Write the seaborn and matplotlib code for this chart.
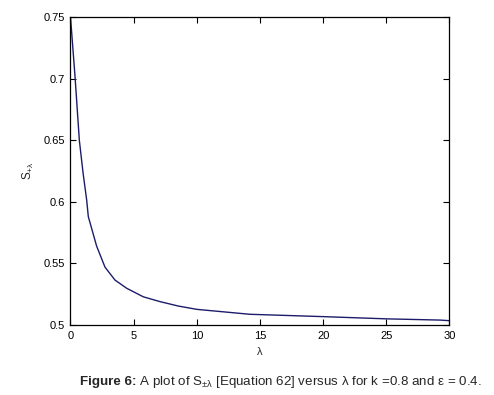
import numpy as np
import pandas as pd
import seaborn as sns
import matplotlib.pyplot as plt

# values
lam = [0, 0.36, 0.7, 1.0, 1.28, 1.41, 2.07, 2.73, 3.52, 4.45, 5.76, 7.08, 8.53,
       10, 14.2, 20, 25, 29.25, 30]
s_val = [0.75, 0.7015, 0.650, 0.623, 0.6015, 0.588, 0.564, 0.547, 0.5365, 0.5298,
         0.5229, 0.519, 0.5154, 0.5127, 0.5087, 0.5068, 0.505, 0.504, 0.5035]
x_ticks = [0, 5, 10, 15, 20, 25, 30]
y_ticks = [0.5, 0.55, 0.6, 0.65, 0.7, 0.75]
y_tick_labels = ['0.5', '0.55', '0.6', '0.65', '0.7', '0.75']

df = pd.DataFrame({'lambda': lam, 'S': s_val})

sns.set_style('white')
plt.rcParams['font.family'] = ['Liberation Sans', 'DejaVu Sans']
plt.rcParams['mathtext.fontset'] = 'custom'
plt.rcParams['mathtext.rm'] = 'Liberation Sans'
plt.rcParams['mathtext.it'] = 'Liberation Sans'
plt.rcParams['mathtext.bf'] = 'Liberation Sans:bold'

fig = plt.figure(figsize=(4.94, 3.95), dpi=100)
ax = fig.add_axes([0.1427, 0.1772, 0.7672, 0.7797])

sns.lineplot(data=df, x='lambda', y='S', color='#1c1c6a', linewidth=1.0, ax=ax)

ax.set_xlim(0, 30)
ax.set_ylim(0.5, 0.75)
ax.set_xticks(x_ticks)
ax.set_yticks(y_ticks)
ax.set_yticklabels(y_tick_labels)
ax.tick_params(direction='in', length=4, width=0.8, labelsize=8, colors='black',
               top=True, right=True, bottom=True, left=True, pad=4)
for sp in ax.spines.values():
    sp.set_color('black')
    sp.set_linewidth(0.9)

ax.set_xlabel(r'$\lambda$', fontsize=8, labelpad=3)
ax.set_ylabel(r'S$_{+\lambda}$', fontsize=8.5, labelpad=5)

# caption: bold prefix followed by normal text
x0, y0 = 80 / 494, 0.025
t1 = fig.text(x0, y0, 'Figure 6:', fontweight='bold', fontsize=9.6,
              ha='left', va='baseline')
fig.canvas.draw()
bb = t1.get_window_extent(fig.canvas.get_renderer())
fig.text(bb.x1 / fig.bbox.width, y0,
         r' A plot of S$_{\pm\lambda}$ [Equation 62] versus $\lambda$ for k =0.8 and $\epsilon$ = 0.4.',
         fontsize=9.6, ha='left', va='baseline')

fig.savefig('out.png', dpi=100)
